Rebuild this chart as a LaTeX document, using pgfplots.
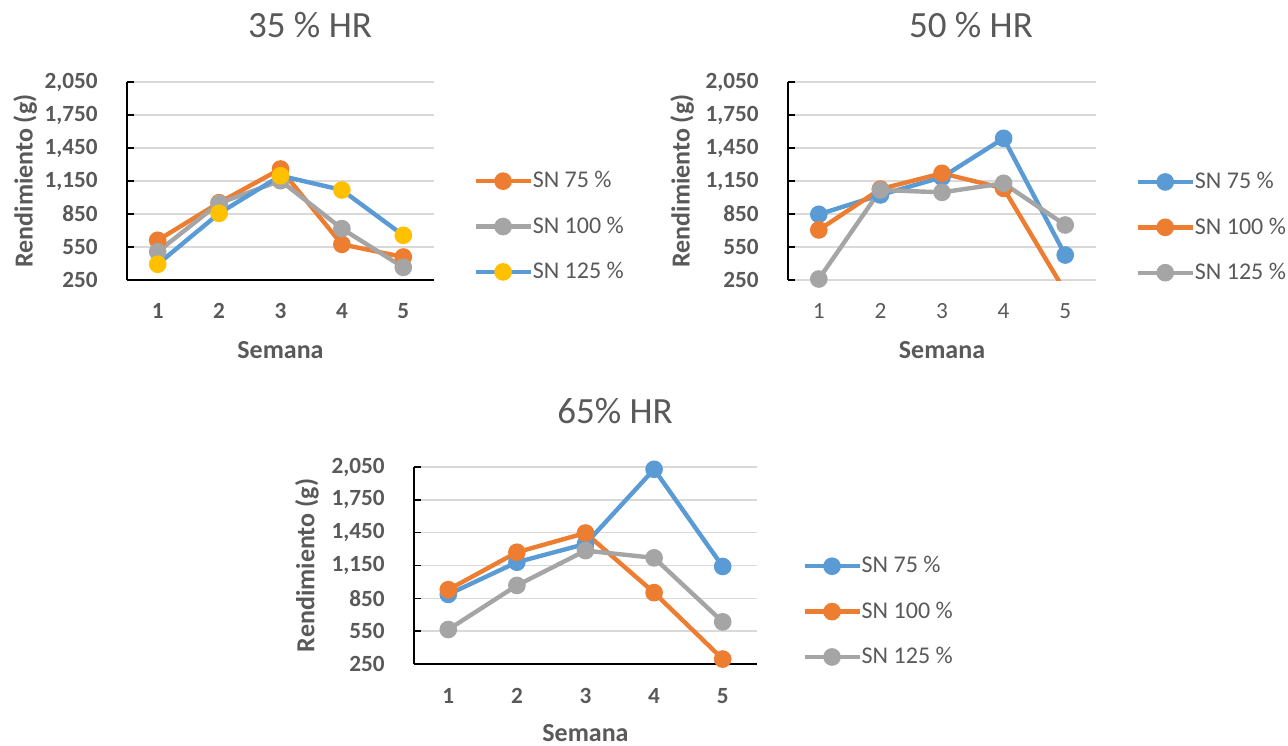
\documentclass[border=0pt]{standalone}
\usepackage{fontspec}
\setmainfont{Carlito}
\usepackage{pgfplots}
\pgfplotsset{compat=1.18}
\definecolor{xblue}{HTML}{5B9BD5}
\definecolor{xorange}{HTML}{ED7D31}
\definecolor{xgray}{HTML}{A5A5A5}
\definecolor{xyellow}{HTML}{FFC000}
\definecolor{txt}{HTML}{595959}
\definecolor{gridc}{HTML}{D9D9D9}

\pgfplotsset{
 hr/.style={
  scale only axis,
  xmin=0.5, xmax=5.5, ymin=250, ymax=2050,
  axis lines*=left, separate axis lines,
  axis line style={-, black, line width=0.9pt},
  ytick={250,550,850,1150,1450,1750,2050},
  yticklabels={250,550,850,{1,150},{1,450},{1,750},{2,050}},
  xtick={1,2,3,4,5}, xticklabels={1,2,3,4,5},
  ymajorgrids, grid style={gridc, line width=0.75pt},
  tick align=inside, major tick length=3.5pt,
  ytick style={black, line width=0.75pt},
  xtick style={draw=none},
  yticklabel style={font=\fontsize{11.6}{14}\selectfont\bfseries, text=txt, anchor=east, inner sep=0pt, xshift=-14.5pt},
  xticklabel style={font=\fontsize{11.6}{14}\selectfont\bfseries, text=txt, anchor=center, inner sep=0pt, yshift=-15.5pt},
  xlabel={Semana}, ylabel={Rendimiento (g)},
  label style={font=\fontsize{13}{15}\selectfont\bfseries, text=txt},
  xlabel style={at={(axis description cs:0.5,0)}, anchor=center, yshift=-35pt},
  title style={font=\fontsize{18.5}{22}\selectfont, text=txt, anchor=center},
  legend style={draw=none, fill=none, anchor=west, font=\fontsize{12}{14}\selectfont, text=txt, row sep=13pt, column sep=0pt, inner sep=0pt, nodes={inner sep=0pt}},
  legend cell align=left,
  legend image code/.code={\draw[mark repeat=2,mark phase=2,#1] plot coordinates {(0pt,0pt) (13.75pt,0pt) (27.5pt,0pt)};},
  every axis plot/.append style={line width=2.2pt, mark=*, mark size=3.3pt},
  every mark/.append style={line width=0.4pt},
 },
 xt/.style={extra x ticks={1.5,2.5,3.5,4.5,5.5}, extra x tick labels={},
  extra x tick style={grid=none, tick style={draw=black, line width=0.75pt}}},
}

\begin{document}
\begin{tikzpicture}
\useasboundingbox (0,0) rectangle (644pt,372.5pt);

% ---- 35 % HR
\begin{axis}[hr, xt, at={(63.5pt,232.5pt)}, anchor=south west, width=153.5pt, height=99pt,
  title={35 \% HR}, title style={at={(axis description cs:0.596,1)}, yshift=22.5pt},
  ylabel style={at={(axis description cs:-0.332,0.5)}, anchor=center},
  legend style={at={(axis description cs:1.127,0.27)}}]
\addplot[color=xorange, mark options={fill=xorange, draw=xorange}] coordinates {(1,611) (2,953) (3,1259) (4,574) (5,459)};
\addlegendentry{SN 75 \%}
\addplot[color=xgray, mark options={fill=xgray, draw=xgray}] coordinates {(1,507) (2,947) (3,1153) (4,717) (5,365)};
\addlegendentry{SN 100 \%}
\addplot[color=xblue, mark options={fill=xyellow, draw=xyellow}] coordinates {(1,393) (2,856) (3,1198) (4,1068) (5,656)};
\addlegendentry{SN 125 \%}
\end{axis}

% ---- 50 % HR
\begin{axis}[hr, at={(394pt,232.5pt)}, anchor=south west, width=154pt, height=99pt,
  x axis line style={draw=none},
  xticklabel style={font=\fontsize{11.6}{14}\selectfont\mdseries},
  title={50 \% HR}, title style={at={(axis description cs:0.594,1)}, yshift=22.5pt},
  ylabel style={at={(axis description cs:-0.344,0.5)}, anchor=center},
  legend style={at={(axis description cs:1.127,0.266)}}]
\addplot[color=xblue, mark options={fill=xblue, draw=xblue}] coordinates {(1,847) (2,1023) (3,1184) (4,1538) (5,477)};
\addlegendentry{SN 75 \%}
\addplot[color=xorange, mark=none, forget plot] coordinates {(4,1083) (5,144)};
\addplot[color=xorange, mark options={fill=xorange, draw=xorange}] coordinates {(1,705) (2,1077) (3,1220) (4,1083)};
\addlegendentry{SN 100 \%}
\addplot[color=xgray, mark options={fill=xgray, draw=xgray}] coordinates {(1,259) (2,1068) (3,1047) (4,1129) (5,750)};
\addlegendentry{SN 125 \%}
\end{axis}

% ---- 65% HR
\begin{axis}[hr, xt, at={(207pt,40.5pt)}, anchor=south west, width=171.5pt, height=98.5pt,
  title={65\% HR}, title style={at={(axis description cs:0.586,1)}, yshift=22pt},
  xlabel style={yshift=0.5pt},
  xticklabel style={yshift=-0.5pt},
  ylabel style={at={(axis description cs:-0.312,0.5)}, anchor=center},
  legend style={at={(axis description cs:1.131,0.266)}}]
\addplot[color=xblue, mark options={fill=xblue, draw=xblue}] coordinates {(1,886) (2,1180) (3,1347) (4,2029) (5,1141)};
\addlegendentry{SN 75 \%}
\addplot[color=xorange, mark options={fill=xorange, draw=xorange}] coordinates {(1,929) (2,1271) (3,1447) (4,902) (5,295)};
\addlegendentry{SN 100 \%}
\addplot[color=xgray, mark options={fill=xgray, draw=xgray}] coordinates {(1,565) (2,968) (3,1286) (4,1220) (5,635)};
\addlegendentry{SN 125 \%}
\end{axis}
\end{tikzpicture}
\end{document}
